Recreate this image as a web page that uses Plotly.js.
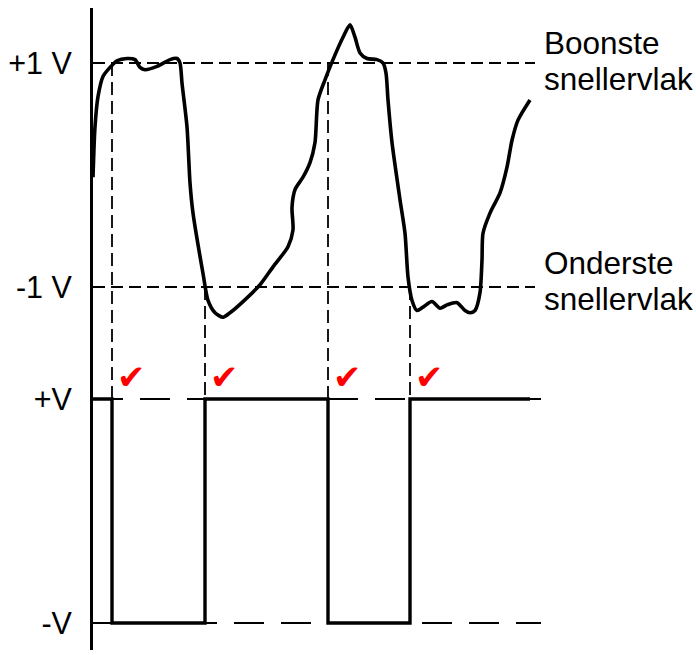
<!DOCTYPE html>
<html>
<head>
<meta charset="utf-8">
<script src="https://cdn.plot.ly/plotly-3.0.1.min.js"></script>
<style>html,body{margin:0;padding:0;background:#fff;}#chart{width:696px;height:655px;}</style>
</head>
<body>
<div id="chart"></div>
<script>
// Input signal (time units, volts)
const inputTime = [0,2,5,10,17,24,34,42,47,52,64,77,84,87,89,94,97,100,110,115,122,130,137,150,167,180,195,200,199,202,210,217,222,225,232,240,250,257,262,267,274,284,290,293,295,299,307,312,315,319,324,330,339,347,354,364,372,377,382,387,389,390,397,407,414,419,425,437];
const inputVolt = [-0.02,0.43,0.70,0.88,0.96,1.02,1.04,1.03,0.96,0.94,0.97,1.03,1.04,1.00,0.82,0.43,-0.07,-0.34,-0.88,-1.12,-1.23,-1.27,-1.23,-1.13,-0.98,-0.82,-0.64,-0.49,-0.29,-0.13,-0.02,0.11,0.29,0.67,0.85,1.03,1.23,1.34,1.23,1.09,1.04,1.03,1.00,0.91,0.67,0.29,-0.22,-0.52,-0.91,-1.12,-1.21,-1.18,-1.13,-1.19,-1.16,-1.14,-1.21,-1.23,-1.21,-1.05,-0.76,-0.52,-0.34,-0.16,0.07,0.31,0.49,0.67];

// Thresholds (upper / lower trip levels)
const upperLevel = 1;
const lowerLevel = -1;
// Output levels (axis positions for +V and -V)
const outHigh = -2;
const outLow = -4;
// Switching instants and the threshold crossed at each
const switchTimes = [19, 112, 235, 317];
const switchFrom = [1, -1, 1, -1];
const outputStart = 0;
const outputEnd = 437;
const thresholdEnd = 442;
const outputLineEnd = 448;

// Tick labels
const tickValues = [1, -1, -2, -4];
const tickLabels = ["+1 V", "-1 V", "+V", "-V"];
const upperLabel = ["Boonste", "snellervlak"];
const lowerLabel = ["Onderste", "snellervlak"];

// Build output square wave from the switch times
const outT = [outputStart], outV = [outHigh];
let level = outHigh;
switchTimes.forEach(t => {
  outT.push(t); outV.push(level);
  level = (level === outHigh) ? outLow : outHigh;
  outT.push(t); outV.push(level);
});
outT.push(outputEnd); outV.push(level);

const traces = [];
const dashShort = "12px,6px";
const dashLong = "30px,17px";
function hline(y, xEnd, dash) {
  traces.push({x:[0,xEnd], y:[y,y], mode:"lines", line:{color:"#000", width:1.8, dash:dash}, hoverinfo:"skip"});
}
hline(upperLevel, thresholdEnd, dashShort);
hline(lowerLevel, thresholdEnd, dashShort);
hline(outHigh, outputLineEnd, dashLong);
hline(outLow, outputLineEnd, dashLong);
switchTimes.forEach((t, i) => {
  traces.push({x:[t,t], y:[switchFrom[i], outHigh], mode:"lines", line:{color:"#000", width:1.8, dash:"13px,6px"}, hoverinfo:"skip"});
});
traces.push({x:inputTime, y:inputVolt, mode:"lines", line:{color:"#000", width:3.6, shape:"spline", smoothing:0.7}, hoverinfo:"skip"});
traces.push({x:outT, y:outV, mode:"lines", line:{color:"#000", width:3.4}, hoverinfo:"skip"});

const font = "Liberation Sans, Arial, sans-serif";
const annotations = [];
function textAnn(txt, y) {
  annotations.push({xref:"paper", yref:"y", x:1.0022, y:y, xanchor:"left", yanchor:"middle", text:txt, showarrow:false, font:{family:font, size:31.5, color:"#000"}});
}
textAnn(upperLabel[0], 1.175);
textAnn(upperLabel[1], 0.86);
textAnn(lowerLabel[0], -0.79);
textAnn(lowerLabel[1], -1.105);
switchTimes.forEach(t => {
  annotations.push({xref:"x", yref:"y", x:t, y:-1.8, xshift:19, text:"✔", showarrow:false, font:{family:"DejaVu Sans", size:34, color:"#ff0000"}});
});

const layout = {
  width:696, height:655,
  margin:{l:93, r:155, t:8, b:5},
  paper_bgcolor:"#fff", plot_bgcolor:"#fff",
  showlegend:false,
  xaxis:{visible:false, range:[0,448], fixedrange:true},
  yaxis:{range:[-4.241,1.491], showline:true, linewidth:3, linecolor:"#000", showgrid:false, zeroline:false,
         ticks:"inside", ticklen:6, tickwidth:1.5, tickcolor:"#000",
         tickvals:tickValues, ticktext:tickLabels, ticklabelstandoff:12,
         tickfont:{family:font, size:30.5, color:"#000"}, fixedrange:true},
  annotations:annotations
};
Plotly.newPlot("chart", traces, layout, {displayModeBar:false, staticPlot:true});
</script>
</body>
</html>
